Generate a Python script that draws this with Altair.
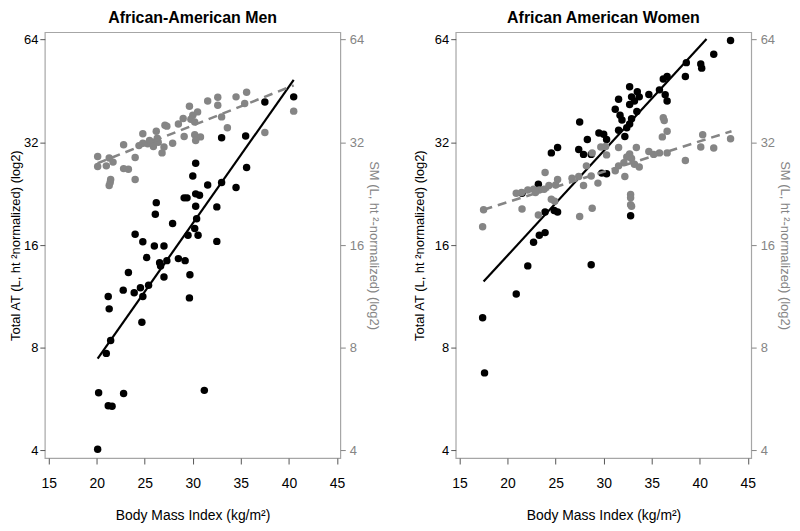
import altair as alt
import pandas as pd

# ---------------- data ----------------
men_at_bmi = [40.5, 37.5, 33.0, 35.5, 35.6, 30.3, 30.0, 33.0, 31.55, 34.5, 30.3, 30.7,
              29.1, 29.4, 26.2, 30.3, 32.5, 26.1, 27.9, 30.4, 30.2, 30.55, 29.5, 24.0,
              24.8, 32.5, 26.0, 27.0, 25.2, 26.55, 26.65, 27.3, 28.5, 29.2, 23.3, 29.7,
              27.0, 25.4, 24.55, 22.76, 23.9, 24.8, 21.2, 29.65, 21.3, 24.7, 21.45, 21.0,
              20.2, 22.8, 21.2, 21.6, 31.2, 20.1]
men_at = [43.5, 42.0, 33.0, 33.4, 27.0, 27.8, 25.5, 24.4, 24.0, 23.6, 22.6, 22.4,
          22.0, 22.0, 21.3, 20.8, 20.7, 19.7, 18.5, 19.1, 17.9, 17.1, 17.1, 17.2,
          16.35, 16.4, 15.9, 15.9, 14.7, 14.2, 13.9, 14.4, 14.6, 14.4, 13.3, 13.1,
          12.9, 12.2, 12.0, 11.8, 11.6, 11.3, 11.3, 11.2, 10.4, 9.5, 8.4, 7.7,
          5.9, 5.87, 5.41, 5.39, 6.0, 4.03]

men_sm_bmi = [40.5, 37.5, 35.6, 34.5, 35.4, 32.6, 31.55, 32.6, 33.0, 33.6, 29.65, 30.5,
              30.0, 29.8, 30.2, 29.0, 28.5, 27.1, 27.3, 26.2, 29.1, 30.2, 30.8, 30.3,
              27.9, 26.3, 26.4, 25.9, 25.3, 25.5, 24.8, 24.8, 24.4, 26.8, 27.0, 22.8,
              24.0, 23.3, 22.8, 24.0, 20.1, 20.1, 21.0, 21.3, 21.7, 21.45, 21.4, 21.3, 25.9]
men_sm = [39.5, 34.2, 44.9, 43.5, 41.6, 43.4, 42.3, 41.1, 38.0, 35.3, 40.8, 39.3,
          38.4, 37.4, 36.7, 37.6, 36.2, 35.9, 35.7, 34.5, 33.3, 33.7, 33.2, 32.4,
          31.8, 32.9, 32.0, 32.0, 31.7, 32.4, 33.9, 31.8, 31.3, 29.8, 31.0, 31.5,
          28.9, 26.7, 26.8, 24.9, 29.1, 27.2, 27.3, 28.8, 28.0, 24.9, 24.4, 23.9, 31.1]

men_at_fit_bmi = [20.1, 40.5]
men_at_fit = [7.43, 48.8]
men_sm_fit_bmi = [20.1, 40.5]
men_sm_fit = [27.8, 47.0]

women_at_bmi = [43.2, 41.45, 38.6, 40.1, 40.2, 38.5, 36.6, 36.2, 35.8, 34.7, 36.4, 36.6,
                32.7, 33.5, 32.9, 33.7, 31.55, 33.2, 32.7, 31.2, 33.45, 31.7, 31.9, 32.9,
                32.7, 27.5, 32.4, 31.55, 32.2, 29.5, 30.0, 28.3, 30.3, 25.2, 27.4, 24.55,
                27.9, 28.7, 29.8, 30.3, 23.2, 21.5, 25.2, 24.85, 23.9, 32.8, 23.9, 23.3,
                22.7, 22.1, 28.7, 20.9, 17.4, 17.6]
women_at = [63.6, 58.0, 54.8, 54.3, 52.8, 49.9, 49.9, 49.1, 45.6, 44.2, 44.1, 42.3,
            46.6, 45.0, 43.5, 43.5, 42.8, 42.3, 41.3, 40.0, 39.4, 38.4, 37.2, 37.5,
            36.2, 36.7, 35.3, 34.7, 33.3, 34.1, 33.8, 32.6, 32.6, 30.9, 30.5, 29.8,
            29.5, 29.5, 26.0, 25.9, 24.1, 22.7, 20.0, 20.2, 20.0, 19.5, 17.4, 17.1,
            16.3, 13.9, 14.0, 11.5, 9.8, 6.75]

women_sm_bmi = [43.2, 41.45, 40.1, 40.3, 38.5, 36.2, 36.3, 36.1, 36.6, 36.6, 35.8, 34.7,
                35.2, 33.4, 33.7, 33.2, 32.7, 32.4, 32.9, 32.1, 31.55, 31.55, 31.2, 32.2,
                32.8, 32.8, 32.8, 32.9, 30.3, 30.2, 29.7, 28.8, 28.2, 27.9, 28.7, 29.4,
                28.8, 27.4, 27.5, 26.7, 25.2, 25.0, 24.9, 23.9, 24.3, 23.8, 23.3, 22.7,
                22.9, 22.1, 21.45, 20.9, 21.5, 23.2, 24.55, 17.5, 17.4]
women_sm = [32.8, 30.8, 31.0, 33.7, 28.3, 37.8, 37.1, 33.2, 34.5, 29.8, 29.8, 30.1,
            29.5, 30.9, 27.1, 27.6, 29.6, 29.0, 28.7, 27.9, 30.9, 27.3, 26.4, 25.4,
            22.5, 22.0, 21.0, 20.8, 29.4, 31.1, 31.0, 29.8, 27.3, 23.9, 25.5, 24.3,
            20.5, 25.4, 19.4, 25.1, 24.9, 24.0, 21.5, 26.1, 23.9, 23.3, 23.2, 23.3,
            22.8, 23.2, 22.8, 22.7, 20.4, 19.6, 21.8, 20.3, 18.1]

women_at_fit_bmi = [17.5, 40.7]
women_at_fit = [12.5, 64.3]
women_sm_fit_bmi = [17.5, 43.3]
women_sm_fit = [20.3, 34.5]

x_ticks = [15, 20, 25, 30, 35, 40, 45]
y_ticks = [4, 8, 16, 32, 64]

# ---------------- styling ----------------
FONT = "Liberation Sans"
BLACK = "#000000"
GRAY = "#858585"
FRAME = "#a6a6a6"
X_DOMAIN = [14.6, 45.35]
Y_DOMAIN = [3.80, 67.3]
W, H = 297, 428

AT_TITLE = "Total AT (L, ht  \u00b2normalized) (log2)"
SM_TITLE = "SM (L, ht \u00b2-normalized) (log2)"
X_TITLE = "Body Mass Index (kg/m\u00b2)"


def x_enc():
    return alt.X(
        "bmi:Q",
        scale=alt.Scale(domain=X_DOMAIN, nice=False, zero=False),
        axis=alt.Axis(values=x_ticks, title=X_TITLE, grid=False, domain=False,
                      tickSize=6, tickColor="#555555", labelPadding=13,
                      labelFontSize=14, titleFontSize=14, titlePadding=18,
                      labelColor=BLACK, titleColor=BLACK),
    )


def y_enc(side, title_pad):
    color = BLACK if side == "left" else GRAY
    tick_color = "#555555" if side == "left" else GRAY
    return alt.Y(
        "v:Q",
        scale=alt.Scale(type="log", base=2, domain=Y_DOMAIN, nice=False),
        axis=alt.Axis(orient=side, values=y_ticks, format="d",
                      title=AT_TITLE if side == "left" else SM_TITLE,
                      grid=False, domain=False, tickSize=5, tickColor=tick_color,
                      labelColor=color, titleColor=color,
                      labelPadding=2 if side == "left" else 4,
                      labelFontSize=13, titleFontSize=13, titlePadding=title_pad,
                      labelAngle=0),
    )


def panel(title, left_pad, at_bmi, at, sm_bmi, sm, atf_bmi, atf, smf_bmi, smf):
    d_at = pd.DataFrame({"bmi": at_bmi, "v": at})
    d_sm = pd.DataFrame({"bmi": sm_bmi, "v": sm})
    d_atf = pd.DataFrame({"bmi": atf_bmi, "v": atf})
    d_smf = pd.DataFrame({"bmi": smf_bmi, "v": smf})

    at_pts = alt.Chart(d_at).mark_circle(size=56, color=BLACK, opacity=1).encode(
        x=x_enc(), y=y_enc("left", left_pad))
    at_line = alt.Chart(d_atf).mark_line(color=BLACK, strokeWidth=2.2).encode(
        x=x_enc(), y=y_enc("left", left_pad))
    sm_pts = alt.Chart(d_sm).mark_circle(size=56, color=GRAY, opacity=1).encode(
        x=x_enc(), y=y_enc("right", 3))
    sm_line = alt.Chart(d_smf).mark_line(color=GRAY, strokeWidth=2.6,
                                         strokeDash=[9, 6]).encode(
        x=x_enc(), y=y_enc("right", 3))

    return alt.layer(alt.layer(at_pts, at_line), alt.layer(sm_pts, sm_line)).resolve_scale(
        y="independent").properties(
        width=W, height=H,
        title=alt.TitleParams(title, fontSize=16, fontWeight="bold", font=FONT,
                              anchor="middle", offset=6, color=BLACK))


men = panel("African-American Men", 1, men_at_bmi, men_at, men_sm_bmi, men_sm,
            men_at_fit_bmi, men_at_fit, men_sm_fit_bmi, men_sm_fit)
women = panel("African American Women", 8, women_at_bmi, women_at, women_sm_bmi, women_sm,
              women_at_fit_bmi, women_at_fit, women_sm_fit_bmi, women_sm_fit)

chart = alt.hconcat(men, women, spacing=31).properties(
    padding={"left": 0, "top": 0, "right": 0, "bottom": 0}, background="white"
).configure_view(stroke=FRAME, strokeWidth=1.2).configure_axis(
    labelFont=FONT, titleFont=FONT, titleFontWeight="normal"
)

chart.save("out.html", embed_options={"renderer": "svg", "actions": False})
